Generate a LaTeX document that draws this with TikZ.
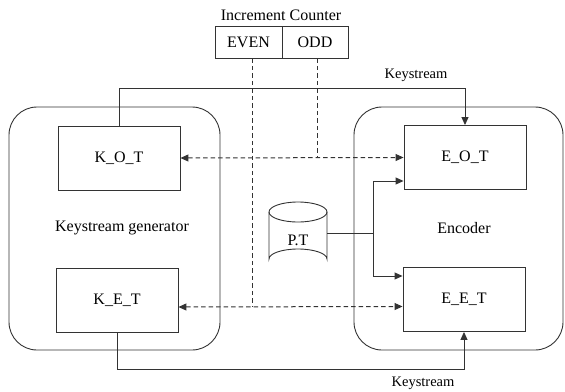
\documentclass[tikz,border=0pt]{standalone}
\usepackage{fontspec}
\setmainfont{Liberation Serif}
\usetikzlibrary{arrows.meta}
\definecolor{ink}{HTML}{333333}
\tikzset{
  every node/.style={font=\fontsize{16}{19}\selectfont, text=black},
  block/.style={draw=ink, line width=0.9pt, minimum width=122pt, minimum height=64pt, inner sep=0pt},
  unit/.style={draw=ink, line width=0.9pt, rounded corners=28pt, inner sep=0pt},
  cell/.style={draw=ink, line width=0.9pt, minimum height=32pt, inner sep=0pt},
  wire/.style={draw=ink, line width=0.9pt},
  ctrl/.style={draw=ink, line width=1pt, dash pattern=on 4.5pt off 3pt},
  tip/.style={-{Triangle[length=8pt,width=7pt]}},
  tips/.style={{Triangle[length=8pt,width=7pt]}-{Triangle[length=8pt,width=7pt]}},
  small/.style={font=\fontsize{14.5}{17}\selectfont}
}
\begin{document}
\begin{tikzpicture}[x=1pt,y=-1pt]
\useasboundingbox (0,0) rectangle (565,391);

% outer units
\node[unit, minimum width=211pt, minimum height=243pt] (gen) at (114.5,228.5) {};
\node[unit, minimum width=209pt, minimum height=243pt] (enc) at (458.5,228.5) {};
\node (genlabel) at (122,228) {Keystream generator};
\node (enclabel) at (464,228) {Encoder};

% tables
\node[block] (kot) at (119,158) {K\_O\_T};
\node[block] (ket) at (117,300) {K\_E\_T};
\node[block] (eot) at (465,157.5) {E\_O\_T};
\node[block] (eet) at (464,299.5) {E\_E\_T};

% increment counter
\node (cnttitle) at (281,15) {Increment Counter};
\node[cell, minimum width=67pt] (even) at (248.5,42) {EVEN};
\node[cell, minimum width=66pt] (odd) at (315,42) {ODD};

% plain text store
\node[minimum width=58pt, minimum height=67pt, inner sep=0pt] (pt) at (298,235.5) {};
\draw[wire] (298,212) ellipse [x radius=29, y radius=10];
\draw[wire] (269,212) -- (269,259) arc[start angle=180, end angle=360, x radius=29, y radius=10] -- (327,212);
\node (ptlabel) at (298,240) {P.T};

% keystream connections
\draw[wire, tip] (kot.north) -- (kot.north |- 0,88) -| (eot.north);
\node[small] (kstop) at (416,75) {Keystream};
\draw[wire, tip] (ket.south) -- (ket.south |- 0,369) -| (eet.south);
\node[small] (ksbot) at (423,383) {Keystream};

% counter control lines
\draw[ctrl, tips] (kot.east) -- (eot.west);
\draw[ctrl, tips] ([yshift=-7pt]ket.east) -- ([yshift=-7pt]eet.west);
\draw[ctrl] ([xshift=3.5pt]even.south) -- ([xshift=3.5pt]even.south |- 0,307);
\draw[ctrl] ([xshift=2pt]odd.south) -- ([xshift=2pt]odd.south |- 0,157.5);

% plain text feeds
\coordinate (br) at (373,233);
\draw[wire] ([yshift=2.5pt]pt.east) -- (br);
\draw[wire, tip] (br) |- ([yshift=-23.5pt]eot.west);
\draw[wire, tip] (br) |- ([yshift=23.5pt]eet.west);
\end{tikzpicture}
\end{document}
